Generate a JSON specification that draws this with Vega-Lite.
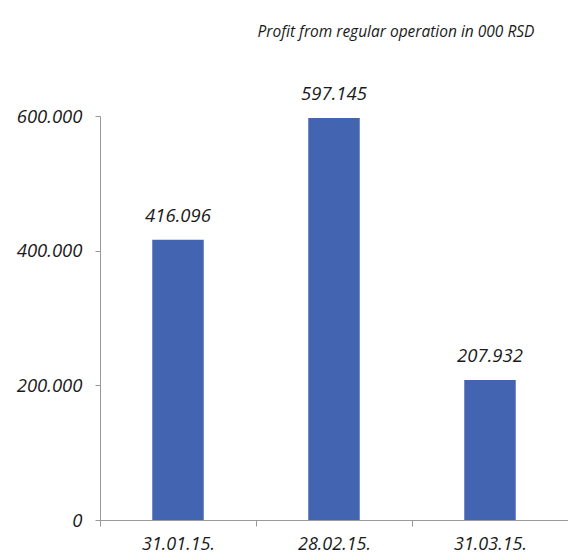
{
  "$schema": "https://vega.github.io/schema/vega-lite/v6.json",
  "autosize": {"type": "none"},
  "padding": {"left": 100, "top": 116, "right": 0, "bottom": 36},
  "width": 468,
  "height": 404,
  "title": {
    "text": "Profit from regular operation in 000 RSD",
    "anchor": "middle",
    "dx": 62,
    "offset": 44,
    "font": "Open Sans",
    "fontStyle": "italic",
    "fontWeight": "normal",
    "fontSize": 15.5,
    "color": "#1a1a1a"
  },
  "data": {
    "values": [
      {"date": "31.01.15.", "profit": 416096},
      {"date": "28.02.15.", "profit": 597145},
      {"date": "31.03.15.", "profit": 207932}
    ]
  },
  "encoding": {
    "x": {
      "field": "date", "type": "nominal", "sort": null,
      "scale": {"paddingInner": 0, "paddingOuter": 0},
      "axis": {
        "title": null, "labelAngle": 0, "tickBand": "extent",
        "domainColor": "#999999", "tickColor": "#999999", "tickSize": 6,
        "labelPadding": 9, "labelFont": "Open Sans", "labelFontStyle": "italic",
        "labelFontSize": 18, "labelColor": "#1a1a1a"
      }
    },
    "y": {
      "field": "profit", "type": "quantitative",
      "scale": {"domain": [0, 600000], "nice": false},
      "axis": {
        "title": null, "values": [0, 200000, 400000, 600000],
        "labelExpr": "format(datum.value, ',')",
        "grid": false, "domainColor": "#999999", "tickColor": "#999999", "tickSize": 5,
        "labelPadding": 13, "labelFont": "Open Sans", "labelFontStyle": "italic",
        "labelFontSize": 18.5, "labelColor": "#1a1a1a"
      }
    }
  },
  "layer": [
    {"mark": {"type": "bar", "width": {"band": 0.33}, "color": "#4365B1"}},
    {
      "mark": {"type": "text", "baseline": "alphabetic", "dy": -18, "font": "Open Sans", "fontStyle": "italic", "fontSize": 18.5, "color": "#1a1a1a"},
      "encoding": {"text": {"field": "profit", "type": "quantitative", "format": ","}}
    }
  ],
  "config": {
    "view": {"stroke": null},
    "locale": {"number": {"decimal": ",", "thousands": ".", "grouping": [3], "currency": ["", " RSD"]}}
  }
}
